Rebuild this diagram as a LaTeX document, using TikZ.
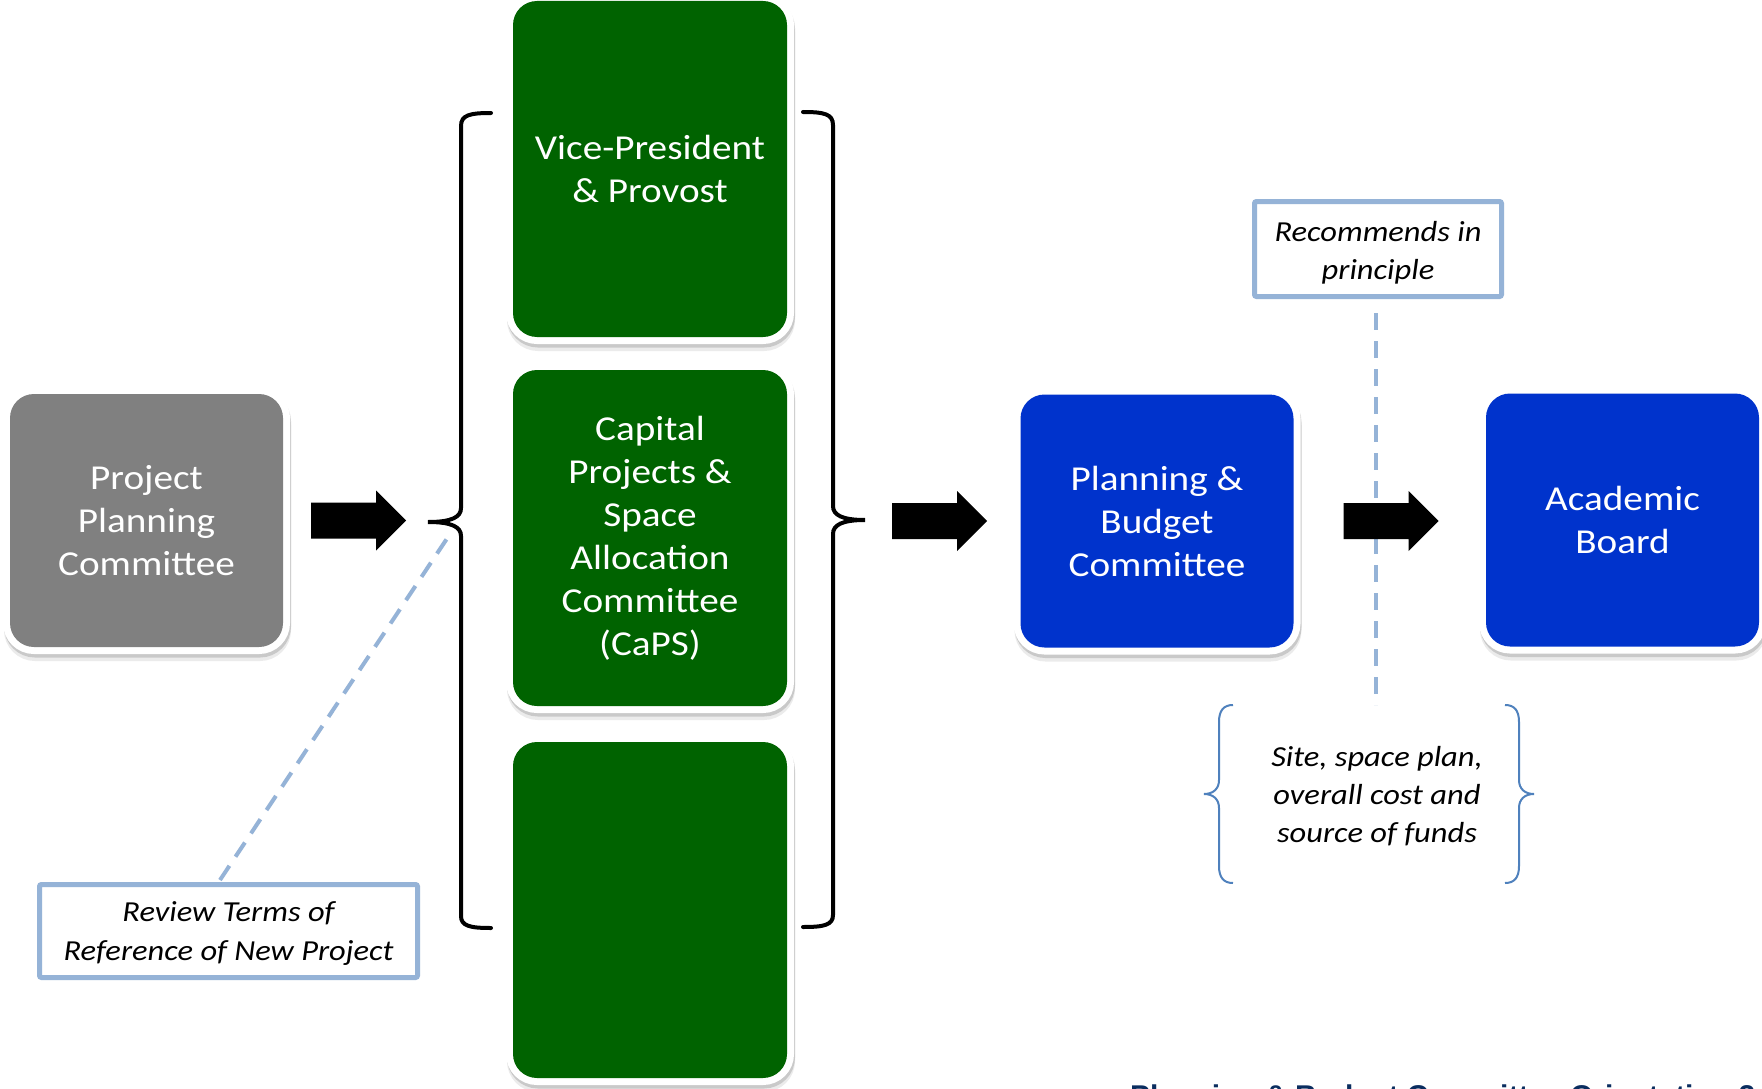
\documentclass[tikz,border=0pt]{standalone}
\usepackage{fontspec}
\setmainfont{Carlito}[FakeStretch=1.12]
\newfontfamily\footerfont{Liberation Sans}
\usetikzlibrary{calc}
\definecolor{ppcgray}{RGB}{128,128,128}
\definecolor{vpgreen}{RGB}{0,99,0}
\definecolor{pbcblue}{RGB}{0,51,204}
\definecolor{noteblue}{RGB}{149,179,215}
\definecolor{bracecol}{RGB}{79,129,189}
\definecolor{footnavy}{RGB}{10,45,95}

\begin{document}
\begin{tikzpicture}[x=1pt,y=-1pt,
  panel/.style={rounded corners=24pt, inner sep=0pt, text=white, align=center,
    font=\fontsize{35}{43}\selectfont,
    preaction={draw=black, line width=14pt, opacity=0.08, transform canvas={xshift=1pt,yshift=-7pt}},
    preaction={draw=black, line width=14pt, opacity=0.14, transform canvas={xshift=1pt,yshift=-3.5pt}},
    preaction={draw=white, line width=14pt}},
  smallpanel/.style={panel, minimum width=273pt, minimum height=253pt},
  tallpanel/.style={panel, fill=vpgreen, minimum width=274pt, minimum height=336pt},
  note/.style={draw=noteblue, line width=5pt, rounded corners=2pt, fill=white,
    inner sep=0pt, align=center, font=\fontsize{29}{38}\selectfont\itshape},
  notetext/.style={align=center, inner sep=0pt, font=\fontsize{29}{38}\selectfont\itshape},
  leader/.style={draw=noteblue, line width=4pt, dash pattern=on 17pt off 11pt},
  bigbrace/.style={draw=black, line width=4pt, line cap=round},
  smallbrace/.style={draw=bracecol, line width=2pt},
  blockarrow/.pic={\fill[black] (0,-18) -- (65,-18) -- (65,-30) -- (95,0) -- (65,30) -- (65,18) -- (0,18) -- cycle;}
]
\useasboundingbox[fill=white] (0,0) rectangle (1762,1089);

% dashed leaders (drawn first so boxes and arrows sit on top)
\coordinate (sitetop) at (1376,705);
\coordinate (revtop) at (220,880);
\coordinate (tipnear) at (448,537);
\node[note, minimum width=247pt, minimum height=95pt] (rec) at (1378,249) {};
\node[notetext] at ($(rec.center)+(0,4)$) {Recommends in\\principle};
\draw[leader] ($(rec.south)+(-2,14)$) -- (sitetop);
\draw[leader] (revtop) -- (tipnear);
\node[note, minimum width=378pt, minimum height=93pt] (rev) at (228.5,931) {};
\node[notetext, font=\fontsize{29}{39}\selectfont\itshape] at ($(rev.center)+(0,2)$) {Review Terms of\\Reference of New Project};

% committee panels
\node[smallpanel, fill=ppcgray] (ppc) at (146.5,520.5) {Project\\Planning\\Committee};
\node[tallpanel] (vp) at (650,169) {Vice-President\\\& Provost};
\node[tallpanel] (caps) at (650,538) {Capital\\Projects \&\\Space\\Allocation\\Committee\\(CaPS)};
\node[tallpanel] (third) at (650,910) {};
\node[smallpanel, fill=pbcblue] (pbc) at (1157,521) {Planning \&\\Budget\\Committee};
\node[smallpanel, fill=pbcblue] (ab) at (1622.5,520) {Academic\\Board};

% braces grouping the three middle panels
\coordinate (ltip) at (428,522);
\coordinate (rtip) at (865,520);
\draw[bigbrace] (491,113) .. controls (470,113) and (461,115) .. (461,126) -- (461,508)
  .. controls (461,517) and (452,522) .. (ltip)
  .. controls (452,522) and (461,527) .. (461,536) -- (461,916)
  .. controls (461,926) and (470,928) .. (491,928);
\draw[bigbrace] (803,112) .. controls (824,112) and (833,114) .. (833,125) -- (833,506)
  .. controls (833,515) and (842,520) .. (rtip)
  .. controls (842,520) and (833,525) .. (833,534) -- (833,915)
  .. controls (833,925) and (824,927) .. (803,927);

% block arrows
\pic at ($(ppc.east)+(28,0)$) {blockarrow};
\pic at ($(rtip)+(27,1)$) {blockarrow};
\pic at ($(pbc.east)+(50,0)$) {blockarrow};

% approval details in thin braces
\node[notetext] (site) at (1377,796) {Site, space plan,\\overall cost and\\source of funds};
\draw[smallbrace] (1233,705) .. controls (1224,705) and (1219,710) .. (1219,722) -- (1219,780)
  .. controls (1219,789) and (1213,794) .. (1204,794)
  .. controls (1213,794) and (1219,799) .. (1219,808) -- (1219,866)
  .. controls (1219,878) and (1224,883) .. (1233,883);
\draw[smallbrace] (1505,705) .. controls (1514,705) and (1519,710) .. (1519,722) -- (1519,780)
  .. controls (1519,789) and (1525,794) .. (1534,794)
  .. controls (1525,794) and (1519,799) .. (1519,808) -- (1519,866)
  .. controls (1519,878) and (1514,883) .. (1505,883);

% footer line
\node[anchor=base west, inner sep=0pt, text=footnavy,
  font=\footerfont\bfseries\fontsize{30}{36}\selectfont] (foot) at (1130,1106)
  {Planning \& Budget Committee Orientation 2};
\end{tikzpicture}
\end{document}
